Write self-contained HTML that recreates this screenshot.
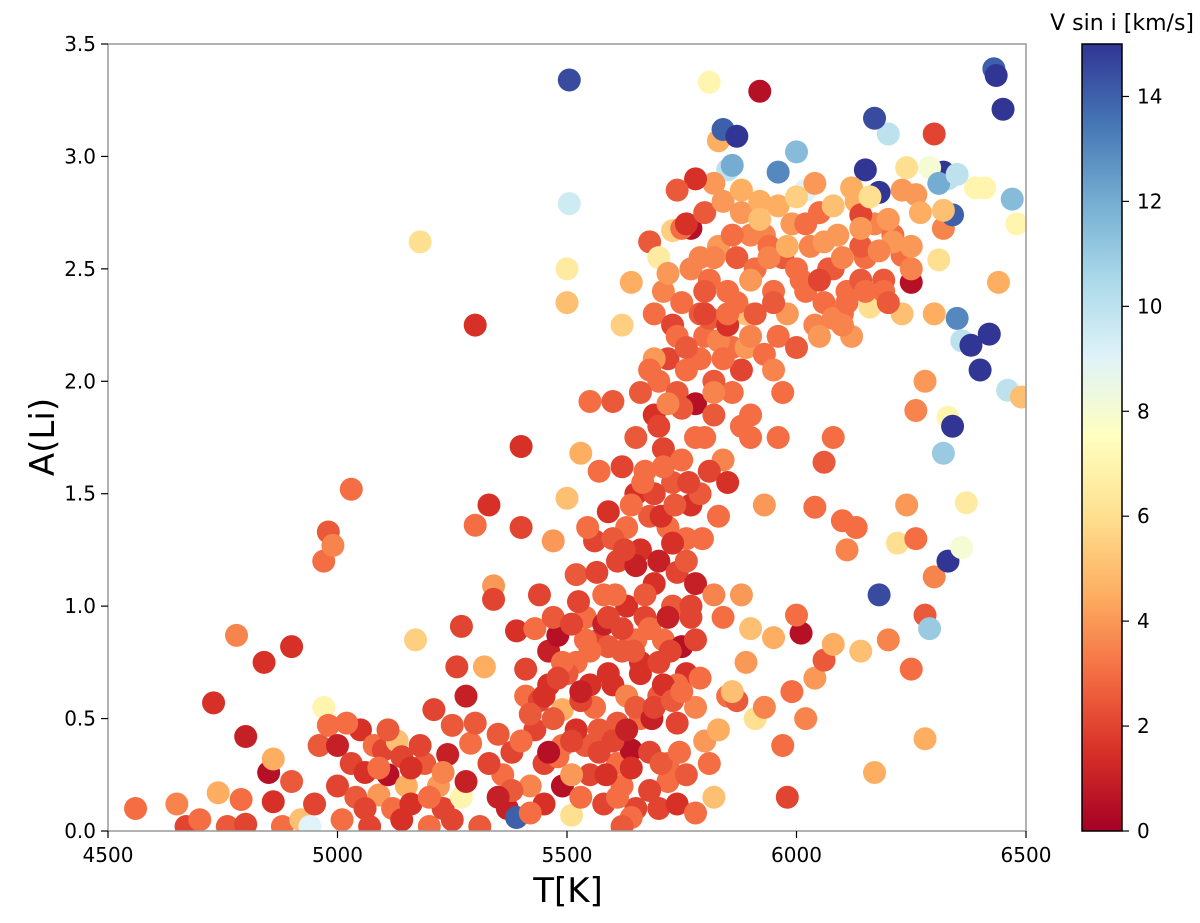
<!DOCTYPE html>
<html><head><meta charset="utf-8"><style>
body{margin:0;background:#fff}
svg text{font-family:"DejaVu Sans","Liberation Sans",sans-serif;fill:#000}
</style></head><body>
<svg id="chart" width="1200" height="918">
<defs>
<clipPath id="plotclip"><rect x="108" y="44" width="918" height="787"/></clipPath>
<linearGradient id="cbgrad" x1="0" y1="1" x2="0" y2="0">
<stop offset="0" stop-color="#a50026"/><stop offset="0.1" stop-color="#d73027"/><stop offset="0.2" stop-color="#f46d43"/><stop offset="0.3" stop-color="#fdae61"/><stop offset="0.4" stop-color="#fee090"/><stop offset="0.5" stop-color="#ffffbf"/><stop offset="0.6" stop-color="#e0f3f8"/><stop offset="0.7" stop-color="#abd9e9"/><stop offset="0.8" stop-color="#74add1"/><stop offset="0.9" stop-color="#4575b4"/><stop offset="1" stop-color="#313695"/>
</linearGradient>
</defs>
<g id="points" clip-path="url(#plotclip)"></g>
<rect x="108" y="44" width="918" height="787" fill="none" stroke="#999" stroke-width="1.5"/>
<g id="axes"></g>
<text x="568" y="902" font-size="34" text-anchor="middle">T[K]</text>
<text transform="translate(54,437) rotate(-90)" font-size="34" text-anchor="middle">A(Li)</text>
<rect x="1082" y="44" width="40" height="787" fill="url(#cbgrad)" stroke="#000" stroke-width="1.5"/>
<text x="1194" y="30" font-size="22" text-anchor="end">V sin i [km/s]</text>
</svg>
<script>
const temps=[4560,4650,4670,4700,4730,4740,4760,4780,4790,4800,
4800,4840,4850,4860,4860,4880,4900,4900,4920,4940,
4950,4960,4970,4970,4980,4980,4990,5000,5000,5010,
5030,5030,5050,5060,5070,5080,5090,5100,5110,5120,
5130,5140,5150,5160,5170,5180,5190,5200,5210,5220,
5230,5240,5250,5260,5270,5270,5280,5290,5300,5300,
5310,5320,5330,5340,5340,5350,5360,5370,5380,5390,
5390,5400,5400,5410,5420,5430,5440,5450,5460,5470,
5480,5490,5490,5500,5500,5500,5505,5505,5510,5520,
5520,5530,5540,5550,5550,5560,5570,5580,5580,5590,
5600,5600,5610,5620,5620,5630,5640,5640,5650,5650,
5560,5570,5590,5610,5620,5630,5650,5660,5540,5580,
5600,5620,5640,5660,5680,5700,5720,5740,5760,5780,
5670,5690,5710,5730,5750,5770,5660,5680,5700,5720,
5740,5760,5780,5650,5670,5690,5710,5730,5750,5770,
5700,5720,5740,5760,5780,5800,5820,5690,5710,5730,
5750,5770,5790,5810,5830,5850,5870,5890,5910,5930,
5950,5970,5990,6010,6030,6050,6070,6090,6110,6130,
6150,6170,6190,6210,6230,5880,5900,5920,5940,5960,
5980,6000,6020,6040,6060,6080,6100,6120,6140,5860,
5800,5820,5840,5860,5880,5900,5790,5810,5830,5850,
5700,5720,5740,5760,5780,5800,5820,5680,5640,5620,
5880,5900,5930,5960,5980,6010,6040,6060,6080,6100,
6110,6130,6140,6170,6180,6200,6220,6240,6250,6260,
6280,6280,6290,6300,6320,6330,6330,6340,6360,6370,
6260,6280,6300,6310,6320,6330,6340,6350,6360,6380,
6400,6410,6420,6430,6440,6450,6460,6470,6480,6490,
6435,6300,6320,6250,6230,6200,6180,6170,6150,6140,
5810,5830,5840,5850,5860,5870,5820,5780,5770,5920,
5960,6000,6020,6240,6260,6290,6310,6320,6350,6390,
5610,5630,5650,5670,5690,5710,5730,5750,5590,5570,
5680,5700,5730,5750,5760,5790,5800,5720,5690,5740,
5450,5470,5490,5510,5530,5460,5480,5500,5520,5540,
5810,5830,5850,5870,5890,5910,5820,5840,5860,5880,
5900,5930,5950,5970,5990,6000,6020,6040,6060,6080,
6050,6080,6110,6140,6160,6190,6210,6230,6250,6270,
5790,5810,5830,5850,5870,5890,5910,5930,5950,5970,
5600,5620,5640,5660,5680,5700,5720,5740,5760,5780,
5040,5090,5140,5180,5230,5280,5330,5380,5420,5460,
5020,5060,5110,5160,5200,5250,5300,5350,5400,5440,
5510,5530,5550,5570,5590,5610,5630,5650,5525,5545,
5565,5585,5605,5625,5645,5665,5685,5705,5725,5745,
5660,5680,5700,5720,5740,5760,5780,5800,5820,5840,
5820,5860,5900,5940,5980,6020,6060,6100,6140,6180,
5840,5880,5920,5960,6000,6040,6080,6120,6160,6200,
5800,5850,5900,5950,6000,6050,6100,6150,6200,6250,
5690,5710,5730,5750,5770,5790,5705,5735,5765,5795,
5410,5430,5450,5470,5490,5510,5530,5550,5420,5480];
const ali=[0.10,0.12,0.02,0.05,0.57,0.17,0.02,0.87,0.14,0.42,
0.03,0.75,0.26,0.32,0.13,0.02,0.82,0.22,0.05,0.02,
0.12,0.38,0.55,1.20,1.33,0.47,1.27,0.38,0.20,0.05,
0.30,1.52,0.45,0.26,0.02,0.38,0.16,0.36,0.25,0.10,
0.40,0.33,0.20,0.12,0.85,2.62,0.30,0.02,0.54,0.20,
0.10,0.34,0.47,0.73,0.15,0.91,0.60,0.39,2.25,1.36,
0.02,0.73,1.45,1.09,1.03,0.43,0.25,0.10,0.35,0.89,
0.06,1.71,1.35,0.60,0.20,0.45,1.05,0.12,0.80,1.29,
0.87,0.20,0.54,1.48,2.50,2.35,3.34,2.79,0.07,0.75,
1.14,1.68,0.95,1.91,0.25,1.29,0.45,0.12,1.05,1.42,
1.91,0.65,0.30,2.25,1.62,1.00,0.36,2.44,1.50,0.85,
0.55,0.85,0.70,0.48,0.20,0.60,0.10,0.75,0.38,0.92,
0.40,0.80,0.28,0.50,0.35,0.60,0.22,0.48,0.70,0.55,
0.95,1.10,0.85,1.00,0.82,0.95,1.25,1.40,1.20,1.35,
1.15,1.30,1.10,1.75,1.60,1.85,1.70,1.55,1.65,1.45,
2.00,2.10,1.95,2.05,1.90,2.20,2.00,2.30,2.40,2.25,
2.35,2.50,2.30,2.45,2.60,2.40,2.55,2.30,2.50,2.65,
2.40,2.55,2.70,2.45,2.60,2.75,2.50,2.65,2.40,2.80,
2.55,2.70,2.45,2.65,2.85,2.75,2.65,2.80,2.60,2.20,
2.30,2.15,2.40,2.25,2.35,2.50,2.30,2.20,2.45,2.15,
1.75,1.85,1.65,1.95,2.05,1.85,1.50,1.60,1.40,1.55,
0.10,0.30,0.12,0.25,0.08,0.40,0.15,0.18,0.06,0.02,
1.80,1.75,1.45,1.75,0.15,0.88,1.44,1.64,1.75,1.38,
1.25,1.35,0.80,0.26,1.05,0.85,1.28,1.45,0.72,1.30,
0.41,0.96,0.90,1.13,1.68,1.20,1.84,1.80,1.26,1.46,
1.87,2.00,2.30,2.54,2.68,2.90,2.74,2.28,2.18,2.16,
2.05,2.86,2.21,3.39,2.44,3.21,1.96,2.81,2.70,1.93,
3.36,3.10,2.93,2.44,2.56,3.10,2.84,3.17,2.94,2.74,
3.33,3.07,3.12,2.94,2.96,3.09,2.88,2.90,2.68,3.29,
2.93,3.02,2.85,2.95,2.83,2.95,2.88,2.76,2.92,2.86,
1.20,1.35,1.18,1.05,1.50,1.62,1.28,1.88,0.95,1.60,
2.62,2.55,2.67,2.68,2.70,2.55,2.75,2.48,2.10,2.85,
0.30,0.50,0.38,0.25,0.58,0.65,0.33,0.70,0.45,0.85,
0.30,0.45,0.60,0.58,0.75,0.50,1.05,0.95,0.62,1.05,
0.90,0.55,0.86,0.38,0.62,0.96,0.50,0.68,0.76,0.83,
2.20,2.28,2.35,2.60,2.33,2.40,2.62,2.30,2.50,2.75,
2.10,2.28,2.18,2.25,2.35,2.15,2.30,2.12,2.05,1.95,
1.30,0.90,1.45,0.70,0.90,0.75,0.95,0.65,1.20,0.85,
0.15,0.28,0.05,0.38,0.26,0.22,0.30,0.18,0.08,0.35,
0.48,0.10,0.45,0.28,0.15,0.05,0.48,0.15,0.40,0.58,
0.40,0.15,0.65,0.35,0.82,0.15,0.45,0.55,1.02,1.35,
1.15,0.25,1.05,1.25,0.80,1.55,0.50,0.30,0.80,0.35,
1.95,2.05,1.80,1.90,2.20,2.15,1.75,2.30,1.95,2.10,
2.55,2.65,2.45,2.55,2.60,2.70,2.62,2.55,2.68,2.58,
2.80,2.85,2.72,2.78,2.82,2.88,2.78,2.86,2.82,2.72,
2.40,2.30,2.20,2.35,2.50,2.45,2.25,2.40,2.35,2.60,
0.55,0.65,0.58,0.62,1.00,0.68,1.40,1.45,1.55,1.30,
0.72,0.90,0.60,0.95,0.75,0.92,0.62,0.80,0.52,0.68];
const vsini=[3,3.5,2,3,1.5,4.5,2.5,3.5,3,1,
2,1.5,0.5,4.5,1.5,3,1.5,2.5,5,9,
2,2.5,7,3,2.5,3,3.5,1,2,3,
2,3,1.5,1.5,2,3,4,2,0.5,3,
5,2,4.5,1.5,5.5,6,2.5,3,2,4,
2,1,2.5,2,7,2,1,3,1.5,3,
2.5,4.5,1.5,4,2,2.5,3,1,2,1.5,
14,1.5,2,3,3.5,2,2,1.5,1,4,
0.5,0.5,4.5,5,6.5,5,14.5,9.5,6,3,
2.5,4.5,3,3,2,2,2.5,2,3,1.5,
2.5,1.5,3,5.5,2,1.5,0.5,4.5,1.5,3,
3,2,1.5,2.5,3,3.5,2,1.5,2.5,1,
2,2.5,1.5,3,2,2.5,3,2,1.5,3.5,
2,1.5,3,2.5,0.5,2,1.5,2.5,1,3,
2,3,1,2.5,3,1.5,2,2.5,3,1.5,
3,2,2.5,3,0.5,3,2.5,3,3.5,2,
3,3.5,2.5,3,4,3,2.5,5,3,3.5,
3,2.5,4,3,3.5,3,2.5,4,3,4.5,
3,3.5,2.5,3,4,4,3.5,4.5,3,3,
4,2.5,3,3.5,3,2.5,3,4,2.5,3,
3,2.5,3.5,3,2,3,2.5,2,3,1.5,
2,3,1.5,2.5,3,4,5,2,3,2.5,
3,3,4,3,2,0.5,3,2.5,3,3,
3.5,3,5,4.5,14.5,3.5,6,4,3,3,
4.5,2.5,11,3.5,11,15,7,15,8,6.5,
3.5,4,4.5,6,3.5,10,14,13,10,15,
15,7,15,14,4.5,15,10,11.5,7,5,
15,2,15,0.5,3,10,15,14.5,15,2,
7,4.5,14,10,12,15,4,1.5,0.5,0.5,
13,11.5,9,6,4,8,12,5,10,7,
2,3,1,2.5,2,3,1.5,2.5,2,3,
2.5,6.5,5.5,3,1.5,3.5,2.5,4,4,2.5,
2,2.5,3,4,2,1.5,3,2.5,1.5,3,
3,4.5,3,2.5,4,6,3.5,3,5,4,
5,3.5,4.5,3,3,3,3.5,4,2.5,4.5,
4,3.5,3,2.5,6,3,4,5,3.5,4.5,
3,2.5,3.5,1.5,3,4,2.5,3,3.5,3,
2.5,2,3,1.5,3,2,1,3,2.5,2,
2.5,3,1.5,2,3.5,1,2,2.5,3,0.5,
3,2,2.5,1.5,3,2,2.5,1,3,2,
2,3,1.5,2,2.5,3,1,2.5,2,3,
2,1.5,3,2,2.5,3,1,2.5,2,3,
2.5,3,2,3.5,3,2.5,3,2,3.5,3,
3.5,3,4,3.5,4.5,3,4,3.5,4,3.5,
4,4.5,5,4.5,5.5,4,5,4.5,6,4,
2.5,3,3.5,2.5,3,2,3.5,3,2.5,4,
2,1.5,2.5,3,2,3,1.5,2.5,2,3,
2,3,1.5,2.5,3,2,1,3,2.5,2];
const xTicks=[4500,5000,5500,6000,6500];
const yTicks=[0.0,0.5,1.0,1.5,2.0,2.5,3.0,3.5];
const cbTicks=[0,2,4,6,8,10,12,14];

const NS="http://www.w3.org/2000/svg";
const xScale=t=>108+(t-4500)/2000*918;
const yScale=a=>831-a/3.5*787;
const cbScale=v=>831-v/15*787;
const cmap=["#a50026","#d73027","#f46d43","#fdae61","#fee090","#ffffbf","#e0f3f8","#abd9e9","#74add1","#4575b4","#313695"];
function hex(h){return [1,3,5].map(i=>parseInt(h.substr(i,2),16));}
function color(v){
  let f=Math.max(0,Math.min(1,v/15))*10, i=Math.min(9,Math.floor(f)), r=f-i;
  const a=hex(cmap[i]),b=hex(cmap[i+1]);
  return "rgb("+a.map((c,k)=>Math.round(c+(b[k]-c)*r)).join(",")+")";
}
const pg=document.getElementById("points");
for(let i=0;i<temps.length;i++){
  const c=document.createElementNS(NS,"circle");
  c.setAttribute("cx",xScale(temps[i]));
  c.setAttribute("cy",yScale(ali[i]));
  c.setAttribute("r",11.5);
  c.setAttribute("fill",color(vsini[i]));
  
  
  pg.appendChild(c);
}
const ax=document.getElementById("axes");
function add(tag,attrs,txt){const e=document.createElementNS(NS,tag);for(const k in attrs)e.setAttribute(k,attrs[k]);if(txt!==undefined)e.textContent=txt;ax.appendChild(e);return e;}
xTicks.forEach(t=>{
  const l=add("line",{x1:xScale(t),x2:xScale(t),y1:831,y2:838,stroke:"#000","stroke-width":1.2});
  
  
  const tx=add("text",{x:xScale(t),y:862,"font-size":20,"text-anchor":"middle"},String(t));
  
  
});
yTicks.forEach(a=>{
  const l=add("line",{x1:101,x2:108,y1:yScale(a),y2:yScale(a),stroke:"#000","stroke-width":1.2});
  
  
  const tx=add("text",{x:96,y:yScale(a)+7,"font-size":20,"text-anchor":"end"},a.toFixed(1));
  
  
});
cbTicks.forEach(v=>{
  const l=add("line",{x1:1122,x2:1129,y1:cbScale(v),y2:cbScale(v),stroke:"#000","stroke-width":1.2});
  
  
  const tx=add("text",{x:1137,y:cbScale(v)+7,"font-size":20},String(v));
  
  
});
</script>
</body></html>
